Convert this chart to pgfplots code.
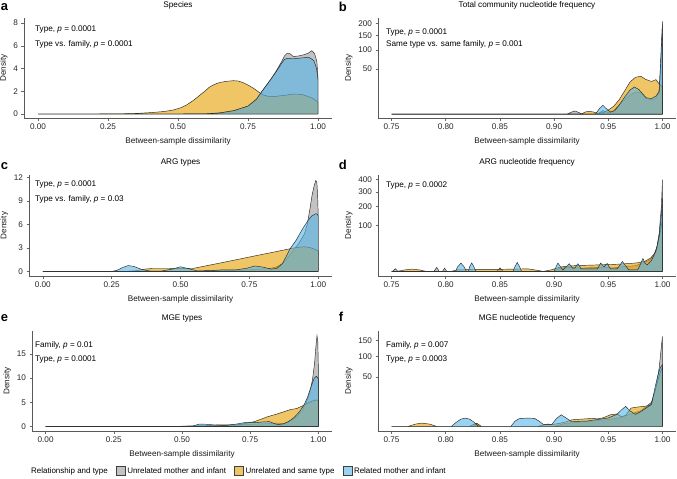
\documentclass[border=0pt]{standalone}
\usepackage{pgfplots}
\pgfplotsset{compat=1.18}
\usepackage{fontspec}
\setmainfont{Liberation Sans}
\definecolor{cgrey}{HTML}{999999}
\definecolor{corange}{HTML}{E69F00}
\definecolor{cblue}{HTML}{56B4E9}
\pgfplotsset{
  panel/.style={scale only axis, anchor=south west, axis lines*=left,
    tick align=outside, major tick length=2.5bp,
    tick style={black!60, line width=0.5bp},
    axis line style={black!65, line width=0.6bp},
    xlabel={Between-sample dissimilarity}, ylabel={Density},
    tick label style={font=\fontsize{8.2}{9}\selectfont, text=black!85},
    label style={font=\fontsize{8.2}{9}\selectfont, text=black!90},
    ylabel style={yshift=-1bp},
    title style={font=\fontsize{8.2}{9}\selectfont, at={(0.5,1)}, anchor=base, yshift=4.5bp},
    xlabel style={at={(0.5,0)}, anchor=base, yshift=-25bp},
    /pgf/number format/assume math mode=true,
    area legend,
    legend image code/.code={\draw[##1, draw=black!75] (0bp,-4.5bp) rectangle (9bp,4.5bp);},
  },
  leftx/.style={xmin=-0.05, xmax=1.05, xtick={0,0.25,0.5,0.75,1},
    xticklabels={0.00,0.25,0.50,0.75,1.00}},
  rightx/.style={xmin=0.7375, xmax=1.0125, xtick={0.75,0.8,0.85,0.9,0.95,1},
    xticklabels={0.75,0.80,0.85,0.90,0.95,1.00}},
  sqrty/.style={y filter/.expression={sqrt(y)}},
  gr/.style={draw=black!85, line width=0.45bp, fill=cgrey, fill opacity=0.6},
  orr/.style={draw=black!85, line width=0.45bp, fill=corange, fill opacity=0.6},
  bl/.style={draw=black!85, line width=0.45bp, fill=cblue, fill opacity=0.6},
}
\begin{document}
\begin{tikzpicture}
\path[use as bounding box] (0,0) rectangle (677bp,-479bp);
\tikzset{ann/.style={anchor=west, font=\fontsize{8.2}{9}\selectfont, inner sep=0pt},
  let/.style={anchor=base west, font=\fontsize{13}{14}\selectfont\bfseries, inner sep=0pt}}
% ---------------- a ----------------
\begin{axis}[panel, leftx, at={(24bp,-118bp)}, width=308bp, height=100bp,
  ymin=-0.35, ymax=8.44, ytick={0,2,4,6,8}, yticklabels={0,2,4,6,8}, title={Species}]
\addplot[gr] coordinates {(0,0) (0.5,0) (0.6,0.02) (0.65,0.1) (0.7,0.3) (0.75,0.7) (0.78,1.3) (0.8,2.0) (0.83,3.0) (0.85,3.75) (0.87,4.6) (0.88,5.1) (0.89,5.35) (0.9,5.3) (0.912,5.05) (0.93,5.1) (0.948,5.2) (0.965,5.35) (0.978,5.57) (0.988,5.3) (0.996,4.6) (1.0,3.2)} \closedcycle;
\addplot[orr] coordinates {(0,0) (0.2,0) (0.3,0.02) (0.35,0.05) (0.4,0.12) (0.45,0.22) (0.483,0.35) (0.51,0.55) (0.531,0.8) (0.555,1.2) (0.579,1.67) (0.6,2.1) (0.614,2.4) (0.635,2.65) (0.65,2.78) (0.675,2.88) (0.698,2.93) (0.715,2.9) (0.733,2.75) (0.75,2.55) (0.77,2.26) (0.79,1.9) (0.805,1.67) (0.82,1.57) (0.84,1.52) (0.865,1.6) (0.888,1.67) (0.91,1.75) (0.924,1.76) (0.945,1.7) (0.96,1.58) (0.98,1.4) (1.0,1.05)} \closedcycle;
\addplot[bl] coordinates {(0,0) (0.5,0) (0.6,0.02) (0.65,0.1) (0.7,0.3) (0.75,0.7) (0.78,1.3) (0.8,2.0) (0.83,3.0) (0.85,3.7) (0.87,4.45) (0.88,4.8) (0.89,4.9) (0.91,4.85) (0.93,4.9) (0.95,4.95) (0.97,4.95) (0.985,4.7) (0.995,4.0) (1.0,3.0)} \closedcycle;
\end{axis}
% ---------------- b ----------------
\begin{axis}[panel, rightx, sqrty, at={(378bp,-118bp)}, width=298bp, height=100bp,
  ymin=-0.6, ymax=15.0, ytick={7.0711,10,12.2474,14.1421}, yticklabels={50,100,150,200},
  title={Total community nucleotide frequency}]
\addplot[gr] coordinates {(0.75,0) (0.912,0) (0.916,0.1) (0.919,0.25) (0.922,0.1) (0.926,0) (0.94,0) (0.945,0.3) (0.95,0.05) (0.955,0.3) (0.96,2.0) (0.965,5) (0.97,9) (0.975,12) (0.98,11) (0.985,6) (0.99,5) (0.994,6) (0.997,15) (0.999,90) (1.0,210)} \closedcycle;
\addplot[orr] coordinates {(0.75,0) (0.925,0) (0.929,0.12) (0.932,0.2) (0.936,0.12) (0.94,0.02) (0.945,0.05) (0.95,0.4) (0.955,1.5) (0.96,5) (0.965,13) (0.97,25) (0.975,33) (0.98,35) (0.985,29) (0.99,26) (0.994,29) (0.997,22) (1.0,18)} \closedcycle;
\addplot[bl] coordinates {(0.75,0) (0.938,0) (0.942,0.8) (0.945,1.9) (0.948,0.8) (0.952,0.1) (0.956,0.3) (0.96,2.0) (0.965,7) (0.97,14) (0.974,18) (0.978,15) (0.985,6.5) (0.99,6) (0.994,8) (0.997,12) (0.999,120) (1.0,195)} \closedcycle;
\end{axis}
% ---------------- c ----------------
\begin{axis}[panel, leftx, at={(29bp,-276bp)}, width=303bp, height=101bp,
  ymin=-0.58, ymax=12.3, ytick={0,3,6,9,12}, yticklabels={0,3,6,9,12}, title={ARG types}]
\addplot[gr] coordinates {(0,0) (0.55,0) (0.6,0.08) (0.65,0.12) (0.7,0.15) (0.75,0.2) (0.78,0.3) (0.82,0.35) (0.85,0.6) (0.87,1.0) (0.89,1.8) (0.91,2.7) (0.93,3.6) (0.95,4.8) (0.96,6.0) (0.97,8.0) (0.978,9.8) (0.985,10.9) (0.991,11.6) (0.995,11.4) (0.998,9.5) (1.0,7.2)} \closedcycle;
\addplot[orr] coordinates {(0,0) (0.3,0) (0.34,0.1) (0.37,0.3) (0.4,0.38) (0.45,0.38) (0.5,0.35) (0.545,0.38) (0.6,0.77) (0.65,1.12) (0.7,1.48) (0.75,1.84) (0.8,2.2) (0.85,2.55) (0.898,2.9) (0.92,3.05) (0.95,3.15) (0.97,3.05) (0.99,2.8) (1.0,2.6)} \closedcycle;
\addplot[bl] coordinates {(0,0) (0.25,0) (0.27,0.15) (0.29,0.5) (0.31,0.75) (0.33,0.65) (0.36,0.25) (0.39,0.05) (0.43,0.05) (0.47,0.3) (0.5,0.6) (0.53,0.35) (0.56,0.08) (0.6,0.1) (0.65,0.2) (0.7,0.2) (0.74,0.4) (0.77,0.7) (0.8,0.55) (0.83,0.3) (0.85,0.4) (0.87,1.0) (0.885,2.0) (0.898,2.9) (0.92,4.0) (0.946,5.6) (0.965,6.6) (0.977,7.1) (0.99,7.35) (0.995,7.35) (1.0,7.1)} \closedcycle;
\end{axis}
% ---------------- d ----------------
\begin{axis}[panel, rightx, sqrty, at={(378bp,-276bp)}, width=298bp, height=101bp,
  ymin=-1.0, ymax=21.0, ytick={10,14.1421,17.3205,20}, yticklabels={100,200,300,400},
  title={ARG nucleotide frequency}]
\addplot[gr] coordinates {(0.75,0) (0.751,0) (0.7534,0.35) (0.756,0) (0.789,0) (0.7917,0.75) (0.794,0) (0.797,0) (0.799,0.5) (0.801,0) (0.847,0) (0.85,0.6) (0.853,0) (0.9,0) (0.905,0.5) (0.915,0.8) (0.925,0.5) (0.94,0.8) (0.955,0.6) (0.965,1.2) (0.975,1.5) (0.982,3.5) (0.988,6) (0.992,12) (0.995,30) (0.997,70) (0.999,200) (1.0,400)} \closedcycle;
\addplot[orr] coordinates {(0.75,0) (0.755,0) (0.762,0.1) (0.769,0.25) (0.776,0.1) (0.782,0) (0.805,0) (0.81,0.1) (0.83,0.2) (0.845,0.18) (0.86,0.25) (0.876,0.3) (0.885,0.05) (0.89,0) (0.897,0.1) (0.905,0.8) (0.91,1.2) (0.92,1.6) (0.93,1.8) (0.94,2.0) (0.95,2.2) (0.96,2.5) (0.97,3.0) (0.977,3.5) (0.984,5) (0.989,8.4) (0.993,16) (0.995,26) (0.998,76) (1.0,130)} \closedcycle;
\addplot[bl] coordinates {(0.75,0) (0.809,0) (0.811,1) (0.814,3.3) (0.817,1) (0.819,0) (0.821,0) (0.822,1) (0.824,3.4) (0.826,1) (0.828,0) (0.862,0) (0.864,1.2) (0.866,3.8) (0.868,1.2) (0.87,0) (0.9,0) (0.902,1.2) (0.9035,3.3) (0.906,1) (0.908,0.1) (0.911,1) (0.914,2.8) (0.917,0.5) (0.919,0.5) (0.922,2.8) (0.925,0.3) (0.94,0.3) (0.943,3.3) (0.946,1) (0.949,3) (0.952,0.3) (0.958,0.3) (0.961,2) (0.963,4.7) (0.966,1.5) (0.969,0.1) (0.977,0.1) (0.98,3) (0.982,8) (0.984,3) (0.986,2) (0.99,6) (0.994,20) (0.997,60) (0.999,150) (1.0,250)} \closedcycle;
\end{axis}
% ---------------- e ----------------
\begin{axis}[panel, leftx, at={(32bp,-431bp)}, width=300bp, height=100bp,
  ymin=-0.94, ymax=19.74, ytick={0,5,10,15}, yticklabels={0,5,10,15}, title={MGE types},
  legend style={draw=none, fill=none, legend columns=-1, at={(-0.01,-0.40)}, anchor=west,
    font=\fontsize{8}{9}\selectfont, inner sep=0pt,
    /tikz/every even column/.append style={column sep=6bp}},
  legend cell align=left]
\addlegendimage{empty legend}
\addlegendentry{Relationship and type}
\addplot[gr] coordinates {(0,0) (0.45,0) (0.5,0.05) (0.55,0.1) (0.6,0.15) (0.65,0.2) (0.7,0.3) (0.75,0.45) (0.8,0.55) (0.85,0.7) (0.873,0.6) (0.9,1.2) (0.92,2.0) (0.94,3.2) (0.955,4.8) (0.968,7) (0.978,9.5) (0.986,13) (0.991,16.5) (0.995,18.8) (0.998,17.5) (1.0,12)} \closedcycle;
\addlegendentry{Unrelated mother and infant}
\addplot[orr] coordinates {(0,0) (0.45,0) (0.52,0.05) (0.58,0.1) (0.62,0.3) (0.66,0.35) (0.7,0.3) (0.73,0.6) (0.765,1.0) (0.79,1.5) (0.813,2.0) (0.85,2.6) (0.898,3.5) (0.92,3.7) (0.94,4.2) (0.96,4.8) (0.98,5.3) (0.995,5.5) (1.0,5.3)} \closedcycle;
\addlegendentry{Unrelated and same type}
\addplot[bl] coordinates {(0,0) (0.5,0) (0.54,0.1) (0.564,0.5) (0.59,0.45) (0.62,0.3) (0.66,0.2) (0.7,0.5) (0.73,0.8) (0.77,0.8) (0.8,0.95) (0.82,1.0) (0.849,0.4) (0.87,0.5) (0.89,1.0) (0.91,1.8) (0.93,3.0) (0.947,4.4) (0.96,6.0) (0.975,8.5) (0.985,10.0) (0.993,10.4) (1.0,9.8)} \closedcycle;
\addlegendentry{Related mother and infant}
\end{axis}
% ---------------- f ----------------
\begin{axis}[panel, rightx, sqrty, at={(378bp,-431bp)}, width=298bp, height=100bp,
  ymin=-0.64, ymax=13.6, ytick={7.0711,10,12.2474}, yticklabels={50,100,150},
  title={MGE nucleotide frequency}]
\addplot[gr] coordinates {(0.75,0) (0.825,0) (0.828,0.2) (0.832,0) (0.9,0) (0.91,0.2) (0.93,0.5) (0.95,1.0) (0.96,1.5) (0.97,3) (0.98,5) (0.985,8) (0.99,12) (0.994,30) (0.997,70) (0.999,130) (1.0,165)} \closedcycle;
\addplot[orr] coordinates {(0.75,0) (0.765,0) (0.772,0.12) (0.778,0.23) (0.785,0.12) (0.792,0) (0.822,0) (0.826,0.12) (0.829,0.2) (0.833,0) (0.885,0) (0.89,0.05) (0.894,0.12) (0.898,0.08) (0.905,0.2) (0.912,0.5) (0.916,0.9) (0.925,1.1) (0.934,1.3) (0.94,1.2) (0.945,1.5) (0.952,2.8) (0.958,3.2) (0.962,2.0) (0.966,2.5) (0.971,6.9) (0.978,7.8) (0.983,8.2) (0.989,9) (0.993,25) (0.996,45) (0.998,60) (1.0,72)} \closedcycle;
\addplot[bl] coordinates {(0.75,0) (0.805,0) (0.81,0.4) (0.814,1.1) (0.818,1.43) (0.822,1.1) (0.826,0.4) (0.83,0) (0.86,0) (0.864,0.6) (0.868,1.3) (0.875,1.43) (0.882,1.35) (0.886,0.6) (0.89,0.1) (0.898,0.1) (0.902,1.2) (0.9065,2.8) (0.911,1.5) (0.916,0.5) (0.93,0.6) (0.94,1.0) (0.95,1.5) (0.958,3) (0.962,5.5) (0.966,8.2) (0.97,5) (0.975,3) (0.98,4.5) (0.985,7) (0.99,10) (0.993,30) (0.996,55) (0.998,70) (1.0,78)} \closedcycle;
\end{axis}
% ---------------- panel letters and annotations ----------------
\node[let] at (0.7bp,-10bp) {a};
\node[let] at (338.7bp,-11.5bp) {b};
\node[let] at (0.7bp,-169bp) {c};
\node[let] at (338.7bp,-169bp) {d};
\node[let] at (0.7bp,-321bp) {e};
\node[let] at (338.7bp,-321.5bp) {f};
\node[ann] at (35bp,-29.3bp) {Type, \textit{p} = 0.0001};
\node[ann] at (35bp,-44bp) {Type vs. family, \textit{p} = 0.0001};
\node[ann] at (386bp,-32.5bp) {Type, \textit{p} = 0.0001};
\node[ann] at (386bp,-44.5bp) {Same type vs. same family, \textit{p} = 0.001};
\node[ann] at (35bp,-184.3bp) {Type, \textit{p} = 0.0001};
\node[ann] at (35bp,-199bp) {Type vs. family, \textit{p} = 0.03};
\node[ann] at (386bp,-185bp) {Type, \textit{p} = 0.0002};
\node[ann] at (35bp,-345bp) {Family, \textit{p} = 0.01};
\node[ann] at (35bp,-359bp) {Type, \textit{p} = 0.0001};
\node[ann] at (386bp,-345bp) {Family, \textit{p} = 0.007};
\node[ann] at (386bp,-359bp) {Type, \textit{p} = 0.0003};
\end{tikzpicture}
\end{document}
